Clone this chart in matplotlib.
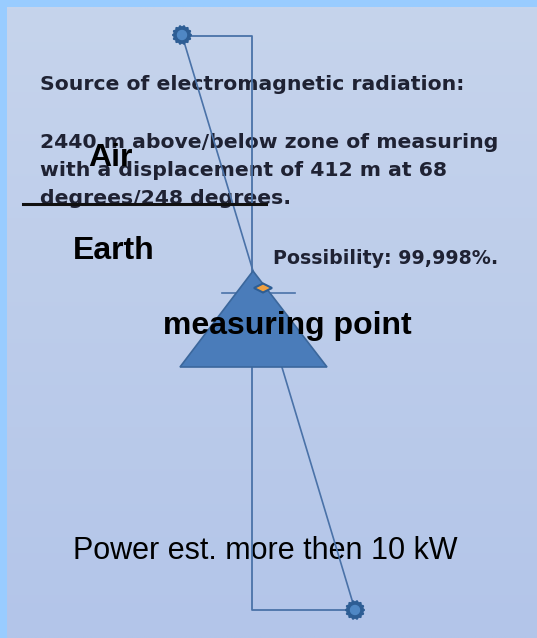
import matplotlib.pyplot as plt
import numpy as np
from matplotlib.patches import Polygon, Circle

# scene in pixel coordinates of the 537x638 picture
W, H = 537, 638

gear_top = (182, 35)
gear_bottom = (355, 610)
frame_x = 252

triangle = [(253, 271), (180, 367), (327, 367)]
crossbar = [(222, 293), (295, 293)]
diamond_center = (263, 288)
ground_line = [(23, 204), (266, 204)]

small_lines = [
    ("Source of electromagnetic radiation:", 40, 90),
    ("2440 m above/below zone of measuring", 40, 148),
    ("with a displacement of 412 m at 68", 40, 176),
    ("degrees/248 degrees.", 40, 204),
]
possibility = ("Possibility: 99,998%.", 273, 264)
big_labels = [
    ("Air", 88, 166),
    ("Earth", 73, 259),
    ("measuring point", 163, 334),
]
power = ("Power est. more then 10 kW", 73, 559)

LINE = '#4a72a8'
TEXT = '#1f2233'


def gear(ax, c, r_out=9.5, r_in=7.8, teeth=14):
    n = teeth * 2
    ang = np.linspace(0, 2 * np.pi, n, endpoint=False)
    rad = np.where(np.arange(n) % 2 == 0, r_out, r_in)
    pts = np.column_stack([c[0] + rad * np.cos(ang), c[1] + rad * np.sin(ang)])
    ax.add_patch(Polygon(pts, closed=True, color='#2d5d94', zorder=10))
    ax.add_patch(Circle(c, 4.5, color='#4f87c4', zorder=11))


fig = plt.figure(figsize=(W / 100, H / 100), dpi=100)
fig.patch.set_facecolor('#99ccff')
ax = fig.add_axes([0, 0, 1, 1])
ax.set_xlim(0, W)
ax.set_ylim(H, 0)
ax.axis('off')

# panel with soft vertical gradient
top = np.array([198, 212, 236]) / 255
bot = np.array([179, 197, 233]) / 255
t = np.linspace(0, 1, 200)[:, None, None]
grad = top * (1 - t) + bot * t
grad = np.repeat(grad, 2, axis=1)
ax.imshow(grad, extent=[7, W, H, 7], aspect='auto', zorder=0, interpolation='bilinear')

# texts under the lines
for s, x, y in small_lines:
    ax.text(x, y, s, fontsize=14.7, fontweight='bold', color=TEXT,
            family='DejaVu Sans', va='baseline', ha='left', zorder=3)
ax.text(possibility[1], possibility[2], possibility[0], fontsize=13.7, fontweight='bold',
        color=TEXT, family='DejaVu Sans', va='baseline', ha='left', zorder=3)
ax.text(power[1], power[2], power[0], fontsize=22, color='black',
        family='Liberation Sans', va='baseline', ha='left', zorder=3)

# frame lines and diagonal
ax.plot([gear_top[0], frame_x, frame_x, gear_bottom[0]],
        [gear_top[1] + 1, gear_top[1] + 1, gear_bottom[1], gear_bottom[1]],
        color=LINE, lw=1.3, zorder=5)
ax.plot([gear_top[0], gear_bottom[0]], [gear_top[1], gear_bottom[1]],
        color=LINE, lw=1.2, zorder=5)

ax.add_patch(Polygon(triangle, closed=True, facecolor='#4a7cba',
                     edgecolor='#3b679c', lw=1.2, zorder=6))
ax.plot([p[0] for p in crossbar], [p[1] for p in crossbar], color=LINE, lw=1.2, zorder=5)
dx, dy = diamond_center
ax.add_patch(Polygon([(dx - 9, dy), (dx, dy - 4.5), (dx + 9, dy), (dx, dy + 4.5)],
                     closed=True, facecolor='#f0a040', edgecolor='#2d5d94', lw=1.5, zorder=7))

gear(ax, gear_top)
gear(ax, gear_bottom)

ax.plot([p[0] for p in ground_line], [p[1] for p in ground_line], color='#111111', lw=2.2, zorder=8)

for s, x, y in big_labels:
    ax.text(x, y, s, fontsize=23, fontweight='bold', color='black',
            family='Liberation Sans', va='baseline', ha='left', zorder=9)

fig.savefig('out.png', dpi=100, facecolor=fig.get_facecolor())
